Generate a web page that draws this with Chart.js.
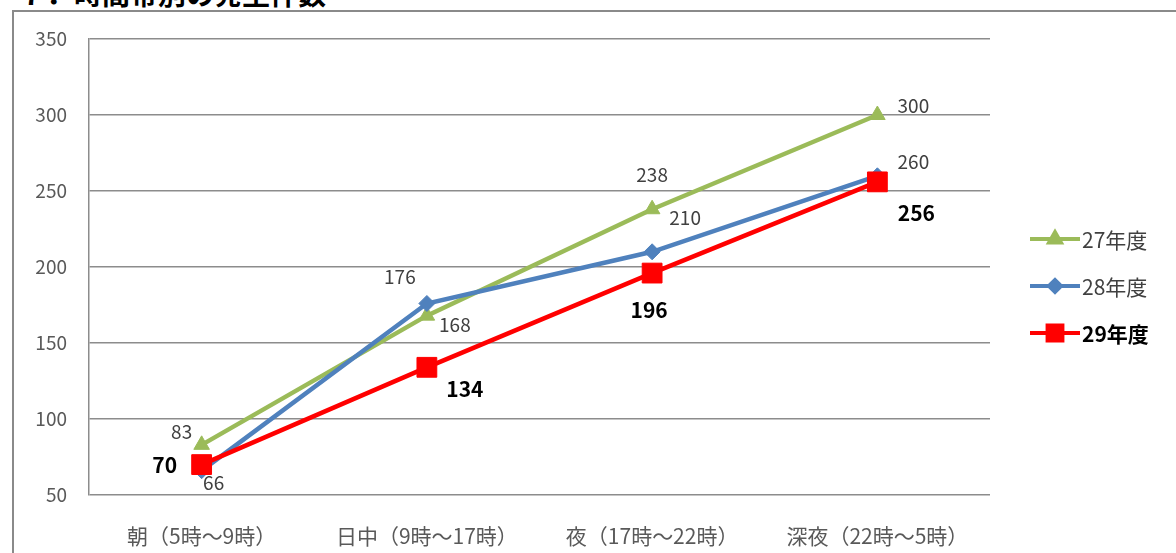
<!DOCTYPE html>
<html lang="ja">
<head>
<meta charset="utf-8">
<script src="https://cdn.jsdelivr.net/npm/chart.js@4.4.1/dist/chart.umd.min.js"></script>
<style>
    body { margin: 0; background: #fff; width: 1176px; height: 553px; overflow: hidden; position: relative; }
    #topo { position: absolute; left: 0; top: 0; width: 600px; height: 8px; overflow: hidden; }
    #titulo { position: absolute; left: 18px; top: -27px; font: bold 28px "Noto Sans CJK JP"; color: #000; white-space: nowrap; }
    #moldura { position: absolute; left: 12px; top: 10px; width: 1170px; height: 550px;
               border-left: 2px solid #8a8a8a; border-top: 2px solid #8a8a8a; }
    #grafico { position: absolute; left: 0; top: 0; }
</style>
</head>
<body>
<div id="topo"><div id="titulo">７．時間帯別の発生件数</div></div>
<div id="moldura"><canvas id="grafico" width="1162" height="541"></canvas></div>
<script>
var categorias = ['朝（5時～9時）', '日中（9時～17時）', '夜（17時～22時）', '深夜（22時～5時）'];
var nomesSeries = ['27年度', '28年度', '29年度'];
var valores27 = [83, 168, 238, 300];
var valores28 = [66, 176, 210, 260];
var valores29 = [70, 134, 196, 256];
var ticksY = [50, 100, 150, 200, 250, 300, 350];

var corVerde = '#9bbb59';
var corAzul = '#4f81bd';
var corVermelho = '#ff0000';
var fonteJP = '"Noto Sans CJK JP", "Noto Sans", sans-serif';

// deslocamento de cada rotulo em relacao ao ponto (x, y)
var posRotulos = [
    [[-20, -13], [28, 9], [0, -34], [36, -9]],
    [[12, 12], [-27, -27], [33, -34], [36, -14]],
    [[-37, 0], [38, 22], [-3, 37], [39, 31]]
];

// rotulos de dados e legenda desenhados na mao
const pluginRotulos = {
    id: 'rotulos',
    afterDatasetsDraw(chart) {
        const ctx = chart.ctx;
        ctx.save();
        ctx.textAlign = 'center';
        ctx.textBaseline = 'middle';
        chart.data.datasets.forEach((ds, i) => {
            const meta = chart.getDatasetMeta(i);
            ctx.font = (i == 2 ? 'bold 21px ' : '19px ') + fonteJP;
            ctx.fillStyle = i == 2 ? '#000' : '#404040';
            meta.data.forEach((pt, j) => {
                ctx.fillText(String(ds.data[j]), pt.x + posRotulos[i][j][0], pt.y + posRotulos[i][j][1]);
            });
        });
        ctx.restore();
    },
    afterDraw(chart) {
        const ctx = chart.ctx;
        ctx.save();
        chart.data.datasets.forEach((ds, i) => {
            var y = 227 + i * 47;
            ctx.strokeStyle = ds.borderColor;
            ctx.lineWidth = 4;
            ctx.beginPath();
            ctx.moveTo(1016, y);
            ctx.lineTo(1066, y);
            ctx.stroke();
            ctx.fillStyle = ds.pointBackgroundColor;
            ctx.strokeStyle = ds.pointBorderColor;
            Chart.helpers.drawPoint(ctx, {
                pointStyle: ds.pointStyle,
                radius: ds.pointRadius * 0.75,
                rotation: 0,
                borderWidth: 1
            }, 1041, y);
            ctx.font = (i == 2 ? 'bold 21px ' : '21px ') + fonteJP;
            ctx.fillStyle = i == 2 ? '#000' : '#404040';
            ctx.textAlign = 'left';
            ctx.textBaseline = 'middle';
            ctx.fillText(ds.label, 1068, y + 1);
        });
        ctx.restore();
    }
};

function serie(nome, dados, cor, estilo, raio, ordem) {
    return {
        label: nome,
        data: dados,
        borderColor: cor,
        backgroundColor: cor,
        borderWidth: 4.5,
        tension: 0,
        pointStyle: estilo,
        pointRadius: raio,
        pointBackgroundColor: cor,
        pointBorderColor: cor,
        pointBorderWidth: 1,
        pointHoverRadius: raio,
        order: ordem
    };
}

const config = {
    type: 'line',
    data: {
        labels: categorias,
        datasets: [
            serie(nomesSeries[0], valores27, corVerde, 'triangle', 9, 2),
            serie(nomesSeries[1], valores28, corAzul, 'rectRot', 8, 1),
            serie(nomesSeries[2], valores29, corVermelho, 'rect', 14, 0)
        ]
    },
    options: {
        responsive: false,
        animation: false,
        devicePixelRatio: 1,
        layout: { padding: { top: 27, right: 186, left: 0, bottom: 0 } },
        events: [],
        scales: {
            x: {
                offset: true,
                grid: { display: false },
                border: { display: false },
                ticks: { padding: 20, color: '#595959', font: { size: 21, family: fonteJP } },
                afterFit(scale) { scale.height = 58; }
            },
            y: {
                min: ticksY[0],
                max: ticksY[ticksY.length - 1],
                afterBuildTicks(scale) { scale.ticks = ticksY.map(v => ({ value: v })); },
                grid: { color: '#8c8c8c', lineWidth: 1.5, drawTicks: false },
                border: { display: true, color: '#8c8c8c', width: 1.5 },
                ticks: { padding: 22, color: '#595959', font: { size: 19, family: fonteJP } },
                afterFit(scale) {
                    scale.width = 75;
                    scale.paddingTop = 0;
                    scale.paddingBottom = 0;
                }
            }
        },
        plugins: {
            legend: { display: false },
            tooltip: { enabled: false }
        }
    },
    plugins: [pluginRotulos]
};

let grafico = new Chart(document.getElementById('grafico'), config);
</script>
</body>
</html>
